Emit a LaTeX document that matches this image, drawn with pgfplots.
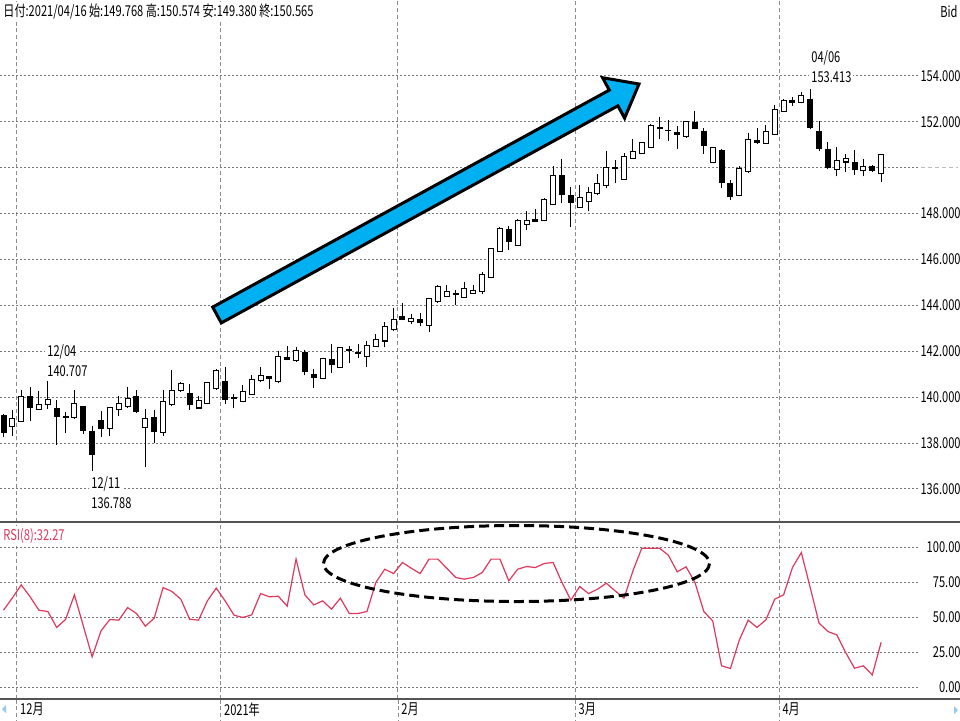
\documentclass[border=0pt]{standalone}
\usepackage{pgfplots}
\pgfplotsset{compat=1.18}
\usepackage{pgfplotstable}
\usepackage{graphicx}
\usepackage{fontspec}
\setmainfont{Noto Sans CJK JP}[FakeStretch=0.74]
\definecolor{rsi}{RGB}{222,56,92}
\definecolor{arrowblue}{RGB}{0,176,240}
\definecolor{gridc}{RGB}{120,120,120}
\definecolor{framec}{RGB}{85,85,85}
\definecolor{navblue}{RGB}{150,200,240}

\pgfplotstableread{
i O H L C
0 139.20 139.25 138.26 138.45
1 138.74 139.45 138.31 139.07
2 138.92 140.32 138.90 140.03
3 140.03 140.46 138.95 139.57
4 139.45 140.27 139.43 139.67
5 139.67 140.707 139.50 139.90
6 139.50 139.89 137.92 139.14
7 139.14 139.35 138.45 139.10
8 139.10 140.32 139.05 139.74
9 139.60 139.62 138.38 138.55
10 138.52 138.74 136.788 137.52
11 139.00 139.41 138.26 138.62
12 138.64 139.58 138.31 139.56
13 139.48 140.07 139.20 139.71
14 139.60 140.43 139.53 139.96
15 140.03 140.32 139.31 139.38
16 138.67 139.50 136.97 139.07
17 139.10 139.45 138.02 138.52
18 138.48 140.32 138.31 139.81
19 139.67 141.18 139.63 140.29
20 140.29 140.67 140.24 140.60
21 140.17 140.56 139.45 139.67
22 139.53 140.07 139.48 139.86
23 139.71 140.67 139.69 140.65
24 140.39 141.25 140.32 141.15
25 140.70 141.30 139.70 139.88
26 139.98 140.16 139.51 139.95
27 139.83 140.52 139.80 140.26
28 140.12 140.95 140.09 140.76
29 140.73 141.31 140.66 140.95
30 140.91 140.93 140.35 140.81
31 140.69 142.03 140.63 141.78
32 141.74 142.24 141.60 141.64
33 141.60 142.17 141.55 142.03
34 141.97 142.07 140.95 141.12
35 140.99 141.24 140.40 140.85
36 140.81 141.70 140.78 141.67
37 141.63 142.32 141.06 141.41
38 141.28 142.17 141.27 142.17
39 142.04 142.24 141.50 142.06
40 141.95 142.32 141.70 141.93
41 141.78 142.46 141.31 142.27
42 142.22 142.75 142.17 142.53
43 142.45 143.28 142.17 143.08
44 142.94 143.90 142.89 143.40
45 143.50 144.09 143.35 143.37
46 143.29 143.61 143.18 143.44
47 143.39 143.65 143.10 143.25
48 143.13 144.29 142.84 144.29
49 144.16 144.88 144.12 144.81
50 144.38 144.88 144.36 144.61
51 144.51 144.69 144.01 144.49
52 144.36 145.01 144.33 144.74
53 144.52 144.88 144.51 144.66
54 144.62 145.45 144.48 145.34
55 145.23 146.52 145.22 146.46
56 146.36 147.40 146.33 147.37
57 147.32 147.44 146.43 146.79
58 146.60 147.77 146.57 147.68
59 147.54 148.12 147.29 147.68
60 147.76 148.19 147.66 147.67
61 147.70 148.67 147.66 148.60
62 148.38 150.07 148.38 149.68
63 149.68 150.40 148.48 148.84
64 148.78 149.17 147.41 148.48
65 148.28 149.25 148.23 148.71
66 148.52 149.17 148.13 148.93
67 148.86 149.71 148.81 149.32
68 149.22 150.75 149.10 149.99
69 150.03 150.32 149.35 149.96
70 149.50 150.65 149.45 150.50
71 150.42 151.24 150.40 150.71
72 150.61 151.10 150.58 151.10
73 150.89 151.91 150.85 151.85
74 151.77 152.19 151.24 151.70
75 151.62 152.06 151.17 151.64
76 151.53 151.81 150.82 151.43
77 151.34 152.05 151.31 152.02
78 151.95 152.47 151.67 151.70
79 151.60 151.74 150.61 150.99
80 150.25 150.92 150.21 150.89
81 150.75 150.82 149.12 149.36
82 149.31 149.48 148.60 148.74
83 148.80 150.07 148.77 149.97
84 149.83 151.53 149.79 151.22
85 151.17 151.74 151.03 151.12
86 151.06 151.88 151.03 151.57
87 151.46 152.73 151.43 152.54
88 152.47 153.01 152.42 152.94
89 152.91 153.08 152.70 152.84
90 152.84 153.29 152.80 153.15
91 152.98 153.413 151.67 151.77
92 151.60 152.02 150.72 150.82
93 150.79 151.10 149.93 150.01
94 149.93 150.89 149.62 150.33
95 150.25 150.58 149.83 150.40
96 150.21 150.78 149.69 149.93
97 149.90 150.40 149.62 150.07
98 150.07 150.11 149.83 149.87
99 149.768 150.574 149.380 150.565
}\candles

\pgfplotstableread{
i R
0 55.2
1 64.0
2 73.3
3 64.8
4 55.2
5 54.3
6 42.9
7 48.6
8 66.2
9 44.0
10 21.9
11 40.5
12 48.6
13 48.1
14 57.1
15 52.9
16 43.8
17 49.5
18 71.4
19 68.6
20 63.1
21 48.8
22 48.1
23 61.9
24 71.0
25 61.9
26 51.7
27 50.0
28 51.9
29 67.1
30 64.8
31 65.2
32 58.1
33 91.7
34 66.2
35 59.0
36 61.9
37 56.0
38 63.8
39 52.9
40 52.9
41 54.3
42 75.0
43 84.5
44 81.4
45 89.3
46 85.2
47 81.4
48 91.7
49 91.7
50 85.2
51 78.6
52 77.4
53 78.6
54 82.1
55 91.7
56 91.7
57 76.2
58 84.5
59 86.4
60 85.7
61 88.6
62 89.3
63 75.0
64 62.4
65 72.1
66 67.1
67 70.2
68 74.5
69 69.0
70 63.8
71 83.3
72 99.5
73 99.5
74 99.5
75 94.5
76 82.6
77 86.2
78 75.0
79 54.3
80 47.6
81 15.5
82 13.6
83 33.8
84 48.1
85 42.9
86 48.3
87 63.1
88 66.2
89 85.7
90 96.4
91 71.4
92 46.0
93 40.0
94 37.6
95 25.0
96 13.8
97 15.5
98 9.0
99 32.27
}\rsidata

\begin{document}
\fontsize{7.5}{9}\selectfont
\begin{tikzpicture}
\path[use as bounding box] (0pt,0pt) rectangle (480pt,-360pt);
\pgfplotsset{
 base/.style={
   scale only axis, axis line style={draw=none}, major tick length=0pt,
   xmin=-0.395, xmax=103.16, width=459pt,
   xtick={1.5,24.5,44.5,64.5,87.5}, xticklabels={},
   xmajorgrids, ymajorgrids,
   major x grid style={gridc!85, line width=0.5pt, dash pattern=on 2pt off 1.4pt},
   major y grid style={gridc, line width=0.5pt, dash pattern=on 1pt off 1pt},
   yticklabel pos=right,
   every y tick label/.append style={anchor=east, inner sep=0pt, xshift=21.5pt},
   tick label style={font=\fontsize{7.5}{9}\selectfont},
 },
 body/.style={only marks, mark size=0pt, mark options={draw=none, fill=none}, forget plot,
   error bars/.cd, y dir=both, y explicit, error mark=none},
}
% ---------------- main price panel ----------------
\begin{axis}[base, at={(0pt,0pt)}, anchor=north west, height=261pt,
  ymin=134.56, ymax=157.31,
  ytick={136,138,140,142,144,146,148,150,152,154},
  yticklabels={136.000,138.000,140.000,142.000,144.000,146.000,148.000,{},152.000,154.000}]
% wicks
\addplot[only marks, mark size=0pt, mark options={draw=none, fill=none}, forget plot,
  error bars/.cd, y dir=plus, y explicit, error mark=none,
  error bar style={draw=black, solid, line width=0.5pt}]
  table[x=i, y=L, y error expr={\thisrow{H}-\thisrow{L}}] {\candles};
% rising candles: outline
\addplot[restrict expr to domain={\thisrow{C}-\thisrow{O}}{0:100},
  body, error bar style={draw=black, solid, line width=3pt}]
  table[x=i, y expr={(\thisrow{O}+\thisrow{C})/2},
        y error expr={abs(\thisrow{C}-\thisrow{O})/2+0.022}] {\candles};
% rising candles: white inside
\addplot[restrict expr to domain={\thisrow{C}-\thisrow{O}}{0:100},
  body, error bar style={draw=white, solid, line width=2pt}]
  table[x=i, y expr={(\thisrow{O}+\thisrow{C})/2},
        y error expr={max(abs(\thisrow{C}-\thisrow{O})/2-0.022,0)}] {\candles};
% falling candles
\addplot[restrict expr to domain={\thisrow{C}-\thisrow{O}}{-100:-0.00001},
  body, error bar style={draw=black, solid, line width=3pt}]
  table[x=i, y expr={(\thisrow{O}+\thisrow{C})/2},
        y error expr={abs(\thisrow{C}-\thisrow{O})/2+0.022}] {\candles};
\end{axis}
% ---------------- RSI panel ----------------
\begin{axis}[base, at={(0pt,-261pt)}, anchor=north west, height=88.5pt,
  ymin=-8.2, ymax=118.2,
  ytick={0,25,50,75,100},
  yticklabels={0.00,25.00,50.00,75.00,100.00},
  xticklabels={12月,2021年,2月,3月,4月},
  every x tick label/.append style={anchor=north west, inner sep=0pt, xshift=1.5pt, yshift=-1.5pt}]
\addplot[rsi, line width=0.6pt, mark=none] table[x=i, y=R] {\rsidata};
\end{axis}
% ---------------- decorations (1 unit = 1 px) ----------------
\begin{scope}[x=0.5pt, y=-0.5pt]
\draw[framec, line width=0.75pt] (0,522) -- (960,522);
\draw[framec, line width=0.75pt] (0,699) -- (960,699);
\foreach \xx in {16.8,220.7,398.0,575.3,779.2}
  \draw[gridc!85, line width=0.5pt, dash pattern=on 2pt off 1.4pt] (\xx,699.5) -- (\xx,720);
\draw[gridc!50, line width=0.5pt, dash pattern=on 2pt off 1.5pt] (921,167.8) -- (958,167.8);
% arrow
\draw[black, line width=1.5pt, fill=arrowblue, line join=miter]
  (212.7,307.1) -- (609.3,90.1) -- (602.6,77.7) -- (639,84) -- (624.6,118.1)
  -- (617.9,105.8) -- (221.3,322.9) -- cycle;
% ellipse
\draw[black, line width=1.5pt, dash pattern=on 5pt off 2.5pt]
  (516.5,563.5) ellipse [x radius=193, y radius=38];
% texts
\node[anchor=west, inner sep=1pt, fill=white] at (1,12)
  {日付:2021/04/16 始:149.768 高:150.574 安:149.380 終:150.565};
\node[anchor=east, inner sep=0pt] at (958,12) {Bid};
\node[anchor=west, inner sep=1pt, fill=white] at (45,352) {12/04};
\node[anchor=west, inner sep=1pt, fill=white] at (45,371) {140.707};
\node[anchor=west, inner sep=1pt, fill=white] at (89,484) {12/11};
\node[anchor=west, inner sep=1pt, fill=white] at (89,503) {136.788};
\node[anchor=west, inner sep=1pt, fill=white] at (809,58) {04/06};
\node[anchor=west, inner sep=1pt, fill=white] at (809,77) {153.413};
\node[anchor=west, inner sep=1pt, fill=white, text=rsi] at (1,536) {RSI(8):32.27};
% scroll arrows
\fill[navblue] (2,709) -- (6,705) -- (6,713) -- cycle;
\fill[navblue] (958,710) -- (954,706) -- (954,714) -- cycle;
\end{scope}
\end{tikzpicture}
\end{document}
